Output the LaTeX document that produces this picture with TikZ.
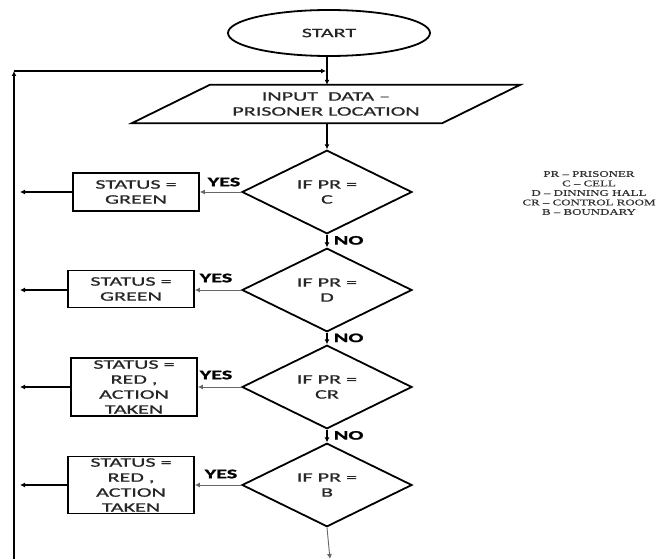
\documentclass[tikz,border=0pt]{standalone}
\usepackage{fontspec}
\setmainfont{Carlito}[FakeStretch=1.7,FakeBold=0.8,BoldFeatures={FakeBold=1.5}]
\newfontfamily\legendfont{Liberation Serif}[FakeStretch=1.5,FakeBold=0.6]
\usetikzlibrary{shapes.geometric,arrows.meta}
\begin{document}
\begin{tikzpicture}[x=1pt,y=-1pt,
  every node/.style={font=\fontsize{13}{15}\selectfont, text=black!85, inner sep=0pt},
  line/.style={line width=1.8pt, draw=black},
  flow/.style={line, -{Latex[length=5pt,width=5pt]}},
  thinflow/.style={line width=0.9pt, draw=black!60, -{Latex[length=5pt,width=5pt]}},
  backflow/.style={line width=1.4pt, draw=black, -{Latex[length=5pt,width=5pt]}},
  term/.style={ellipse, draw, line width=1.8pt, minimum width=202pt, minimum height=46pt},
  decide/.style={diamond, draw, line width=1.8pt, minimum width=170pt, minimum height=78pt, align=center},
  status/.style={rectangle, draw, line width=1.8pt, minimum width=126pt, align=center},
  lbl/.style={font=\bfseries\fontsize{13}{15}\selectfont, text=black},
]
\useasboundingbox (0,0) rectangle (657,559);

\node[term] (start) at (329,33) {START};
\node[minimum width=388pt, minimum height=38pt, align=center] (input) at (326,104) {INPUT\ \ DATA --\\PRISONER LOCATION};
\draw[line] ([xshift=78pt]input.north west) -- (input.north east) -- ([xshift=-78pt]input.south east) -- (input.south west) -- cycle;

\node[decide] (d1) at (327,192) {IF PR =\\C};
\node[decide] (d2) at (327,290) {IF PR =\\D};
\node[decide] (d3) at (327,387) {IF PR =\\CR};
\node[decide] (d4) at (327,485) {IF PR =\\B};

\node[status, minimum height=38pt] (b1) at (136,192) {STATUS =\\GREEN};
\node[status, minimum height=37pt] (b2) at (131,289) {STATUS =\\GREEN};
\node[status, minimum height=58pt] (b3) at (134,387) {STATUS =\\RED ,\\ACTION\\TAKEN};
\node[status, minimum height=57pt] (b4) at (131,485) {STATUS =\\RED ,\\ACTION\\TAKEN};

\coordinate (corner) at (14,71);
\coordinate (bottomleft) at (14,559);
\coordinate (join) at (327,71);
\coordinate (end) at (330,559);

% main flow
\draw[flow] (start.south -| d1.north) -- (input.north -| d1.north);
\draw[flow] (input.south -| d1.north) -- (d1.north);
\draw[flow] (d1.south) -- node[lbl, right=6pt, pos=0.45] (no1) {NO} (d2.north);
\draw[flow] (d2.south) -- node[lbl, right=6pt, pos=0.45] (no2) {NO} (d3.north);
\draw[flow] (d3.south) -- node[lbl, right=6pt, pos=0.45] (no3) {NO} (d4.north);
\draw[thinflow] (d4.south) -- (end);

% yes branches
\draw[thinflow] (d1.west) -- (b1.east);
\draw[thinflow] (d2.west) -- (b2.east |- d2.west);
\draw[thinflow] (d3.west) -- (b3.east);
\draw[thinflow] (d4.west) -- (b4.east);
\node[lbl] (y1) at (224,182) {YES};
\node[lbl] (y2) at (216,278) {YES};
\node[lbl] (y3) at (216,375) {YES};
\node[lbl] (y4) at (221,474) {YES};

% back to loop line
\draw[backflow] (b1.west) -- ([xshift=6pt]corner |- b1.west);
\draw[backflow] (b2.west |- d2.west) -- ([xshift=6pt]corner |- d2.west);
\draw[backflow] (b3.west) -- ([xshift=6pt]corner |- b3.west);
\draw[backflow] (b4.west) -- ([xshift=6pt]corner |- b4.west);

\draw[flow] (bottomleft) -- (corner);
\draw[flow] (corner) -- ([xshift=-1pt]join);

% legend
\node[align=center, font=\legendfont\fontsize{8.6}{9.5}\selectfont, text=black!80] (legend) at (589,193)
  {PR – PRISONER\\C – CELL\\D – DINNING HALL\\CR – CONTROL ROOM\\B – BOUNDARY};
\end{tikzpicture}
\end{document}
